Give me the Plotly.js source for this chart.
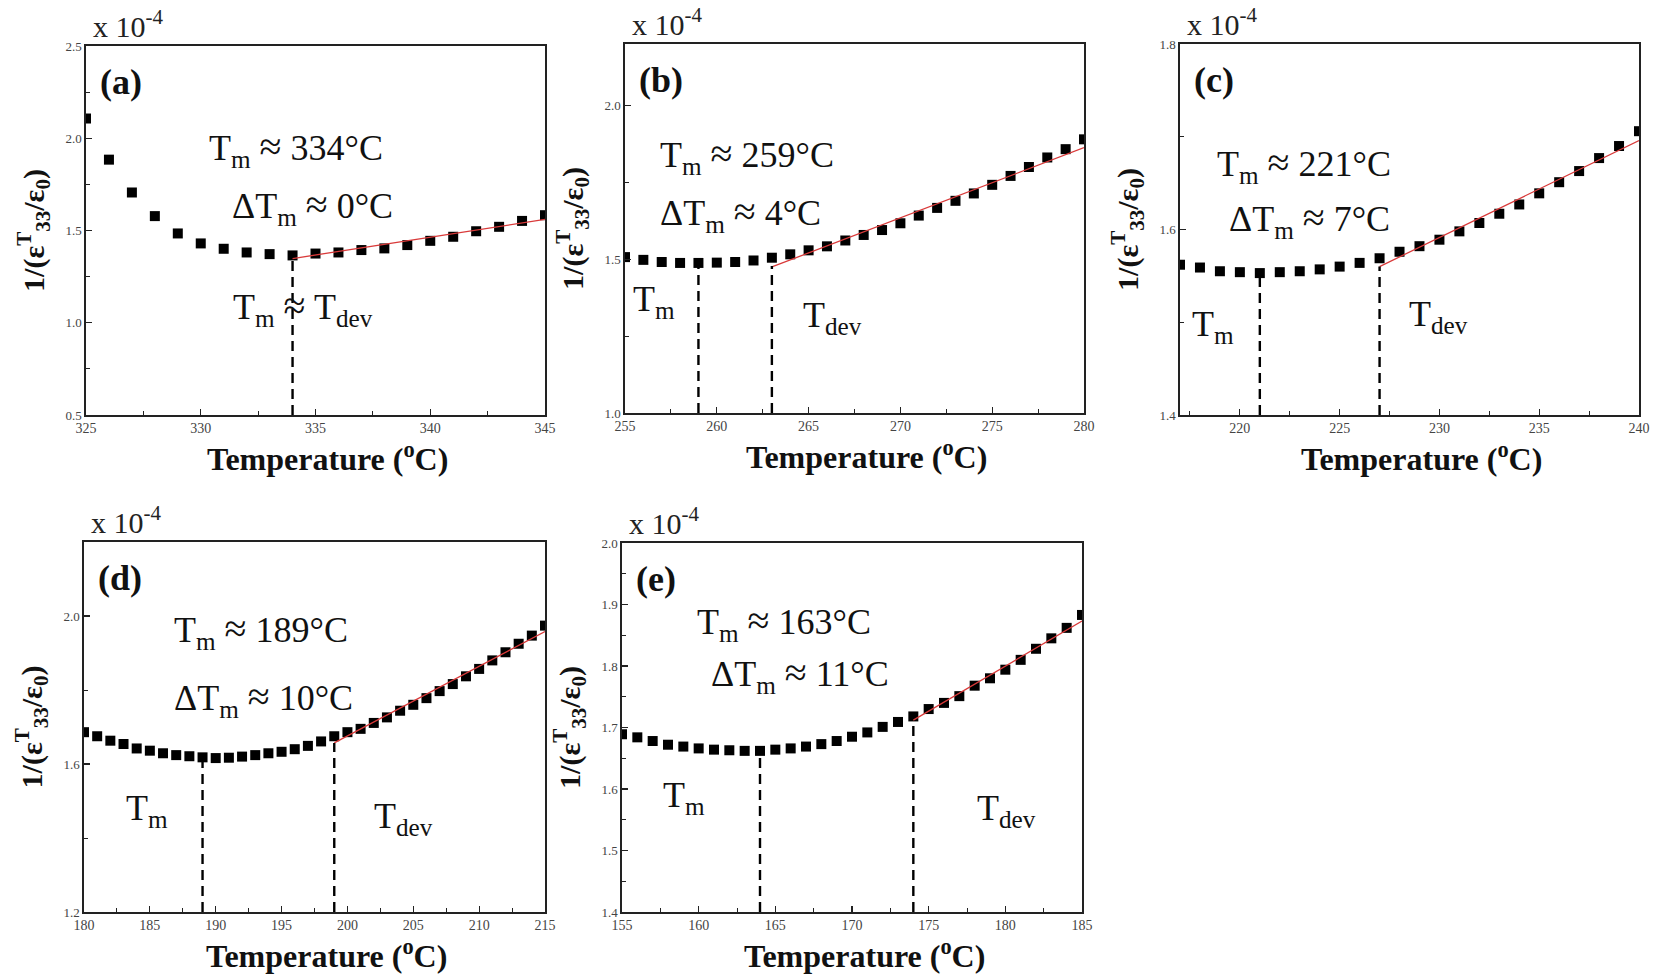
<!DOCTYPE html>
<html>
<head>
<meta charset="utf-8">
<script src="https://cdn.plot.ly/plotly-3.0.1.min.js"></script>
<style>html,body{margin:0;padding:0;background:#fff;}#chart{width:1659px;height:976px;}</style>
</head>
<body>
<div id="chart"></div>
<script>
// ---------- DATA (values in units of 1e-4) ----------
const aTemp = [325,326,327,328,329,330,331,332,333,334,335,336,337,338,339,340,341,342,343,344,345];
const aVal  = [2.107,1.884,1.706,1.578,1.484,1.430,1.401,1.381,1.372,1.365,1.375,1.381,1.394,1.403,1.421,1.444,1.466,1.496,1.520,1.552,1.583];
const aFitT = [334,345];
const aFitV = [1.348,1.560];
const aMarkT = [334];
const aMarkV = [1.365];

const bTemp = [255,256,257,258,259,260,261,262,263,264,265,266,267,268,269,270,271,272,273,274,275,276,277,278,279,280];
const bVal  = [1.507,1.498,1.491,1.488,1.488,1.489,1.491,1.496,1.505,1.516,1.529,1.542,1.561,1.579,1.595,1.617,1.642,1.667,1.690,1.714,1.742,1.771,1.800,1.831,1.858,1.890];
const bFitT = [263,280];
const bFitV = [1.475,1.863];
const bMarkT = [259,263];
const bMarkV = [1.488,1.478];

const cTemp = [217,218,219,220,221,222,223,224,225,226,227,228,229,230,231,232,233,234,235,236,237,238,239,240];
const cVal  = [1.562,1.559,1.555,1.554,1.553,1.554,1.555,1.557,1.560,1.564,1.569,1.576,1.582,1.589,1.598,1.607,1.617,1.627,1.639,1.651,1.663,1.677,1.690,1.706];
const cFitT = [227,240];
const cFitV = [1.560,1.696];
const cMarkT = [221,227];
const cMarkV = [1.553,1.560];

const dTemp = [180,181,182,183,184,185,186,187,188,189,190,191,192,193,194,195,196,197,198,199,200,201,202,203,204,205,206,207,208,209,210,211,212,213,214,215];
const dVal  = [1.686,1.675,1.663,1.654,1.642,1.636,1.629,1.624,1.621,1.618,1.616,1.617,1.620,1.624,1.629,1.633,1.640,1.649,1.661,1.675,1.686,1.695,1.711,1.726,1.744,1.760,1.778,1.797,1.816,1.837,1.857,1.880,1.902,1.925,1.947,1.974];
const dFitT = [199,215];
const dFitV = [1.657,1.958];
const dMarkT = [189,199];
const dMarkV = [1.618,1.657];

const eTemp = [155,156,157,158,159,160,161,162,163,164,165,166,167,168,169,170,171,172,173,174,175,176,177,178,179,180,181,182,183,184,185];
const eVal  = [1.689,1.684,1.678,1.672,1.669,1.666,1.664,1.663,1.662,1.662,1.664,1.666,1.669,1.673,1.678,1.685,1.692,1.701,1.709,1.718,1.730,1.740,1.751,1.768,1.780,1.794,1.810,1.828,1.845,1.862,1.883];
const eFitT = [174,185];
const eFitV = [1.712,1.873];
const eMarkT = [164,174];
const eMarkV = [1.662,1.712];

const panelLabels = ['(a)','(b)','(c)','(d)','(e)'];
const tmTexts  = ['334','259','221','189','163'];
const dtmTexts = ['0','4','7','10','11'];
const xTitle = 'Temperature (<sup>o</sup>C)';
const yTitle = '1/(ε<sup>T</sup><sub>33</sub>/ε<sub>0</sub>)';

// ---------- LAYOUT HELPERS ----------
const W = 1659, H = 976;
const px = v => v / W;
const py = v => 1 - v / H;

const panels = [
  {t:aTemp, v:aVal, ft:aFitT, fv:aFitV, mt:aMarkT, mv:aMarkV, xr:[325,345], yr:[0.5,2.5], ydt:0.5, ymin:0.25, box:[86,545,46,415]},
  {t:bTemp, v:bVal, ft:bFitT, fv:bFitV, mt:bMarkT, mv:bMarkV, xr:[255,280], yr:[1.0,2.2], ydt:0.5, ymin:0.25, box:[625,1084,44,413]},
  {t:cTemp, v:cVal, ft:cFitT, fv:cFitV, mt:cMarkT, mv:cMarkV, xr:[217,240], yr:[1.4,1.8], ydt:0.2, ymin:0.1, box:[1180,1639,44,415]},
  {t:dTemp, v:dVal, ft:dFitT, fv:dFitV, mt:dMarkT, mv:dMarkV, xr:[180,215], yr:[1.2,2.2], ydt:0.4, ymin:0.2, box:[84,545,542,912]},
  {t:eTemp, v:eVal, ft:eFitT, fv:eFitV, mt:eMarkT, mv:eMarkV, xr:[155,185], yr:[1.4,2.0], ydt:0.1, ymin:0.05, box:[622,1082,543,912]}
];

const serif = 'Liberation Serif, Times New Roman, serif';
const traces = [];
const layout = {
  width: W, height: H,
  margin: {l:0, r:0, t:0, b:0},
  paper_bgcolor: '#fff', plot_bgcolor: '#fff',
  showlegend: false,
  annotations: [],
  font: {family: serif, color: '#111'}
};

panels.forEach((p, i) => {
  const n = i === 0 ? '' : String(i + 1);
  const xa = 'x' + n, ya = 'y' + n;
  // data points
  traces.push({x: p.t, y: p.v, xaxis: xa, yaxis: ya, type: 'scatter', mode: 'markers',
    marker: {symbol: 'square', size: 10, color: '#000'}, hoverinfo: 'x+y'});
  // linear fit line
  traces.push({x: p.ft, y: p.fv, xaxis: xa, yaxis: ya, type: 'scatter', mode: 'lines',
    line: {color: '#d93a3a', width: 1.3}, hoverinfo: 'skip'});
  // dashed guide lines down to the axis
  p.mt.forEach((m, k) => {
    traces.push({x: [m, m], y: [p.yr[0], p.mv[k]], xaxis: xa, yaxis: ya, type: 'scatter', mode: 'lines',
      line: {color: '#000', width: 2.4, dash: '10px,6px'}, hoverinfo: 'skip'});
  });
  const [l, r, t, b] = p.box;
  layout['xaxis' + n] = {
    domain: [px(l), px(r)], anchor: ya, range: p.xr, dtick: 5, tick0: 0,
    showline: true, mirror: true, linecolor: '#222', linewidth: 1.6,
    ticks: 'inside', ticklen: 6, tickcolor: '#222', tickwidth: 1.2,
    minor: {dtick: 2.5, ticks: 'inside', ticklen: 4, tickcolor: '#222', tickwidth: 1},
    showgrid: false, zeroline: false,
    tickfont: {family: serif, size: 14, color: '#444'},
    automargin: false
  };
  layout['yaxis' + n] = {
    domain: [py(b), py(t)], anchor: xa, range: p.yr, dtick: p.ydt, tick0: 0, tickformat: '.1f',
    showline: true, mirror: true, linecolor: '#222', linewidth: 1.6,
    ticks: 'inside', ticklen: 6, tickcolor: '#222', tickwidth: 1.2,
    minor: {dtick: p.ymin, ticks: 'inside', ticklen: 4, tickcolor: '#222', tickwidth: 1},
    showgrid: false, zeroline: false,
    tickfont: {family: serif, size: 13, color: '#444'},
    title: {text: yTitle, font: {family: serif, size: 30, color: '#111', weight: 'bold'}, standoff: 12},
    automargin: false
  };
  // x-axis title (placed as annotation, slightly right of centre as in the original)
  layout.annotations.push({xref: 'paper', yref: 'paper', x: px((l + r) / 2 + 12), y: py(b + 42), xanchor: 'center', yanchor: 'middle',
    text: '<b>' + xTitle + '</b>', showarrow: false, font: {family: serif, size: 32, color: '#111'}});
  // scale label
  layout.annotations.push({xref: 'paper', yref: 'paper', x: px(l + 5), y: py(t - 22), xanchor: 'left', yanchor: 'middle',
    text: 'x 10<sup>-4</sup>', showarrow: false, font: {family: serif, size: 30, color: '#222'}});
  // panel label
  layout.annotations.push({xref: 'paper', yref: 'paper', x: px(l + 12), y: py(t + 36), xanchor: 'left', yanchor: 'middle',
    text: '<b>' + panelLabels[i] + '</b>', showarrow: false, font: {family: serif, size: 36, color: '#111'}});
});

// text annotations (pixel positions: left edge, vertical centre)
const txt = [
  ['T<sub>m</sub> ≈ ' + tmTexts[0] + '°C', 207, 148],
  ['ΔT<sub>m</sub> ≈ ' + dtmTexts[0] + '°C', 230, 206],
  ['T<sub>m</sub> ≈ T<sub>dev</sub>', 231, 307],
  ['T<sub>m</sub> ≈ ' + tmTexts[1] + '°C', 658, 155],
  ['ΔT<sub>m</sub> ≈ ' + dtmTexts[1] + '°C', 658, 214],
  ['T<sub>m</sub>', 631, 302],
  ['T<sub>dev</sub>', 801, 318],
  ['T<sub>m</sub> ≈ ' + tmTexts[2] + '°C', 1215, 164],
  ['ΔT<sub>m</sub> ≈ ' + dtmTexts[2] + '°C', 1227, 219],
  ['T<sub>m</sub>', 1190, 326],
  ['T<sub>dev</sub>', 1407, 316],
  ['T<sub>m</sub> ≈ ' + tmTexts[3] + '°C', 172, 630],
  ['ΔT<sub>m</sub> ≈ ' + dtmTexts[3] + '°C', 172, 698],
  ['T<sub>m</sub>', 124, 810],
  ['T<sub>dev</sub>', 372, 818],
  ['T<sub>m</sub> ≈ ' + tmTexts[4] + '°C', 695, 622],
  ['ΔT<sub>m</sub> ≈ ' + dtmTexts[4] + '°C', 709, 674],
  ['T<sub>m</sub>', 661, 797],
  ['T<sub>dev</sub>', 975, 810]
];
txt.forEach(([s, x, y]) => {
  layout.annotations.push({xref: 'paper', yref: 'paper', x: px(x), y: py(y), xanchor: 'left', yanchor: 'middle',
    text: s.replace(/≈/g, '<span style="font-size:40px">≈</span>'), showarrow: false, font: {family: serif, size: 36, color: '#111'}});
});

Plotly.newPlot('chart', traces, layout, {displayModeBar: false, staticPlot: true});
</script>
</body>
</html>
